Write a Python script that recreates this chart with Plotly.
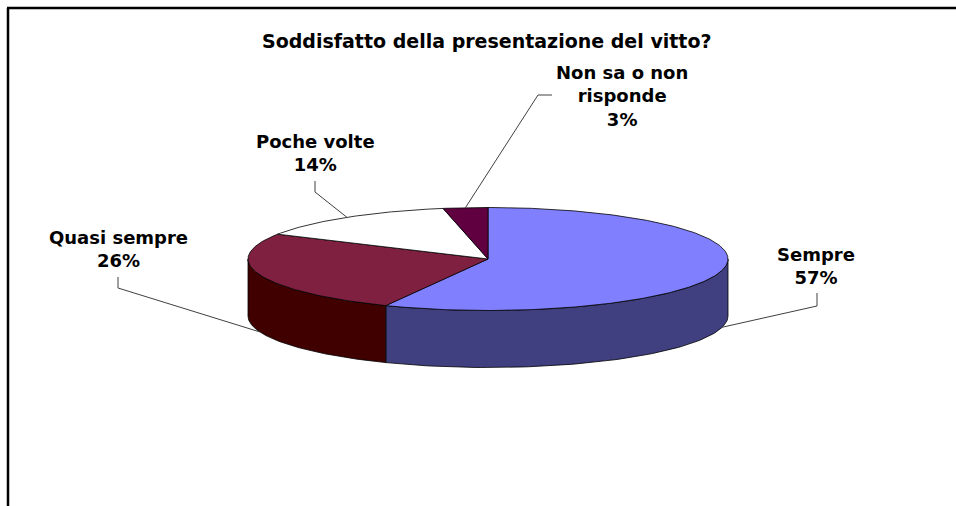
import numpy as np
import plotly.graph_objects as go

# Survey answers and their shares (percent)
categories = ["Sempre", "Quasi sempre", "Poche volte", "Non sa o non<br>risponde"]
percentages = [57, 26, 14, 3]

# Face colours: top of each slice and its darker rim
top_colors = ["#8080FF", "#802040", "#FFFFFF", "#600040"]
side_colors = ["#404080", "#400000", "#808080", "#300020"]

TITLE = "Soddisfatto della presentazione del vitto?"

# Canvas and pie geometry (pixel units, y grows downward)
W, H = 956, 506
CX, CY, RX, RY, DEPTH = 488, 259, 240, 51.5, 57

# Label placement: text centre and the elbow of each leader line
label_layout = [
    dict(xy=(816, 266), elbow=[(817, 293), (817, 306)]),
    dict(xy=(118, 249), elbow=[(118, 277), (118, 288)]),
    dict(xy=(315, 153), elbow=[(315, 181), (315, 192)]),
    dict(xy=(622, 96), elbow=[(552, 95), (538, 95)]),
]


def rim(theta_deg, drop=0.0):
    """Point on the pie rim; angle measured clockwise from 12 o'clock."""
    t = np.radians(theta_deg)
    return CX + RX * np.sin(t), CY - RY * np.cos(t) + drop


fig = go.Figure()

total = float(sum(percentages))
bounds = np.concatenate([[0.0], np.cumsum(percentages) / total * 360.0])

# Visible front walls (the half facing the viewer)
for i in range(len(percentages)):
    a, b = bounds[i], bounds[i + 1]
    lo, hi = max(a, 90.0), min(b, 270.0)
    if lo >= hi:
        continue
    ts = np.linspace(lo, hi, 80)
    xt, yt = rim(ts)
    xb, yb = rim(ts[::-1], DEPTH)
    fig.add_trace(go.Scatter(
        x=np.concatenate([xt, xb, xt[:1]]),
        y=np.concatenate([yt, yb, yt[:1]]),
        mode="lines", fill="toself", fillcolor=side_colors[i],
        line=dict(color="#000000", width=0.8),
        hoverinfo="skip", showlegend=False,
    ))

# Top faces
for i in range(len(percentages)):
    a, b = bounds[i], bounds[i + 1]
    ts = np.linspace(a, b, max(int((b - a) * 1.5), 8))
    xs, ys = rim(ts)
    fig.add_trace(go.Scatter(
        x=np.concatenate([[CX], xs, [CX]]),
        y=np.concatenate([[CY], ys, [CY]]),
        mode="lines", fill="toself", fillcolor=top_colors[i],
        line=dict(color="#000000", width=0.8),
        name=categories[i], hoverinfo="skip", showlegend=False,
    ))

# Data labels with leader lines
for i, lay in enumerate(label_layout):
    mid = (bounds[i] + bounds[i + 1]) / 2.0
    drop = DEPTH if 90.0 < mid < 270.0 else 0.0
    ax, ay = rim(mid, drop)
    pts = lay["elbow"] + [(ax, ay)]
    fig.add_trace(go.Scatter(
        x=[p[0] for p in pts], y=[p[1] for p in pts],
        mode="lines", line=dict(color="#404040", width=1),
        hoverinfo="skip", showlegend=False,
    ))
    fig.add_annotation(
        x=lay["xy"][0], y=lay["xy"][1], xref="x", yref="y",
        text=f"<b>{categories[i]}<br>{percentages[i]}%</b>",
        showarrow=False, xanchor="center", yanchor="middle",
        font=dict(family="DejaVu Sans", size=18, color="#000000"),
    )

fig.add_annotation(
    x=487, y=41, xref="x", yref="y", text=f"<b>{TITLE}</b>",
    showarrow=False, xanchor="center", yanchor="middle",
    font=dict(family="DejaVu Sans", size=19, color="#000000"),
)

# Chart frame (left and top edges)
fig.add_shape(type="line", x0=8, y0=H, x1=8, y1=8, xref="x", yref="y",
              line=dict(color="#000000", width=2.5))
fig.add_shape(type="line", x0=7, y0=8, x1=W, y1=8, xref="x", yref="y",
              line=dict(color="#000000", width=2.5))

fig.update_layout(
    width=W, height=H,
    margin=dict(l=0, r=0, t=0, b=0),
    paper_bgcolor="#FFFFFF", plot_bgcolor="#FFFFFF",
    xaxis=dict(range=[0, W], visible=False, fixedrange=True),
    yaxis=dict(range=[H, 0], visible=False, fixedrange=True),
)

fig.write_html("out.html", config={"displayModeBar": False})
